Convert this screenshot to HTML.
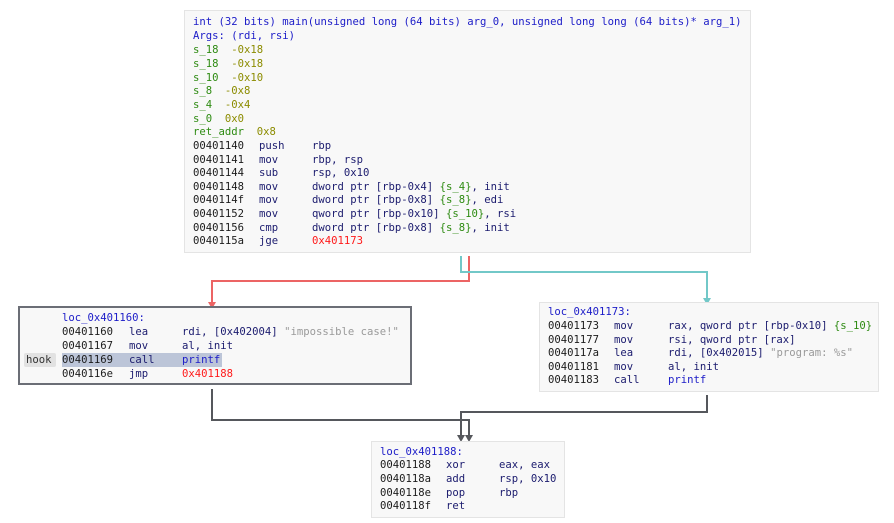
<!DOCTYPE html>
<html><head><meta charset="utf-8"><style>
body{margin:0;width:894px;height:523px;background:#fff;position:relative;overflow:hidden;font-family:"DejaVu Sans Mono","Liberation Mono",monospace;font-size:10.6px;}
.box{position:absolute;background:#f8f8f8;border:1px solid #e4e4e4;box-sizing:border-box;}
.l{position:absolute;white-space:pre;line-height:14px;height:14px;color:#1b1b1b;}
.b{color:#1c1cc8}.g{color:#2e8b12}.y{color:#8c8c00}.r{color:#ff1a1a}.s{color:#9a9a9a}.n{color:#1b1b6e}
</style></head><body>
<svg width="894" height="523" style="position:absolute;left:0;top:0">
<g fill="none" stroke-width="2">
<polyline points="469,256 469,281 212,281 212,302" stroke="#ec6464"/>
<polyline points="461,256 461,272 707,272 707,298" stroke="#72c8c8"/>
<polyline points="212,389 212,420 469,420 469,436" stroke="#55575c"/>
<polyline points="707,395 707,412 461,412 461,436" stroke="#55575c"/>
</g>
<polygon points="208,302 216,302 212,309" fill="#ec6464"/>
<polygon points="703,298 711,298 707,305" fill="#72c8c8"/>
<polygon points="465,435 473,435 469,442" fill="#55575c"/>
<polygon points="457,435 465,435 461,442" fill="#55575c"/>
</svg>
<div class="box" style="left:184px;top:10px;width:567px;height:243px"></div>
<div class="box" style="left:18px;top:306px;width:394px;height:79px;border:2px solid #6b6e76"></div>
<div class="box" style="left:539px;top:302px;width:340px;height:90px"></div>
<div class="box" style="left:371px;top:441px;width:194px;height:77px"></div>

<div class="l b" style="left:193px;top:15px">int (32 bits) main(unsigned long (64 bits) arg_0, unsigned long long (64 bits)* arg_1)</div>
<div class="l b" style="left:193px;top:29px">Args: (rdi, rsi)</div>
<div class="l" style="left:193px;top:43px"><span class="g">s_18</span>  <span class="y">-0x18</span></div>
<div class="l" style="left:193px;top:57px"><span class="g">s_18</span>  <span class="y">-0x18</span></div>
<div class="l" style="left:193px;top:71px"><span class="g">s_10</span>  <span class="y">-0x10</span></div>
<div class="l" style="left:193px;top:84px"><span class="g">s_8</span>  <span class="y">-0x8</span></div>
<div class="l" style="left:193px;top:98px"><span class="g">s_4</span>  <span class="y">-0x4</span></div>
<div class="l" style="left:193px;top:112px"><span class="g">s_0</span>  <span class="y">0x0</span></div>
<div class="l" style="left:193px;top:125px"><span class="g">ret_addr</span>  <span class="y">0x8</span></div>

<div class="l" style="left:193px;top:139px">00401140</div><div class="l n" style="left:259px;top:139px">push</div><div class="l n" style="left:312px;top:139px">rbp</div>
<div class="l" style="left:193px;top:153px">00401141</div><div class="l n" style="left:259px;top:153px">mov</div><div class="l n" style="left:312px;top:153px">rbp, rsp</div>
<div class="l" style="left:193px;top:166px">00401144</div><div class="l n" style="left:259px;top:166px">sub</div><div class="l n" style="left:312px;top:166px">rsp, 0x10</div>
<div class="l" style="left:193px;top:180px">00401148</div><div class="l n" style="left:259px;top:180px">mov</div><div class="l n" style="left:312px;top:180px">dword ptr [rbp-0x4] <span class="g">{s_4}</span>, init</div>
<div class="l" style="left:193px;top:193px">0040114f</div><div class="l n" style="left:259px;top:193px">mov</div><div class="l n" style="left:312px;top:193px">dword ptr [rbp-0x8] <span class="g">{s_8}</span>, edi</div>
<div class="l" style="left:193px;top:207px">00401152</div><div class="l n" style="left:259px;top:207px">mov</div><div class="l n" style="left:312px;top:207px">qword ptr [rbp-0x10] <span class="g">{s_10}</span>, rsi</div>
<div class="l" style="left:193px;top:221px">00401156</div><div class="l n" style="left:259px;top:221px">cmp</div><div class="l n" style="left:312px;top:221px">dword ptr [rbp-0x8] <span class="g">{s_8}</span>, init</div>
<div class="l" style="left:193px;top:234px">0040115a</div><div class="l n" style="left:259px;top:234px">jge</div><div class="l r" style="left:312px;top:234px">0x401173</div>

<div class="l b" style="left:62px;top:311px">loc_0x401160:</div>
<div class="l" style="left:62px;top:325px">00401160</div><div class="l n" style="left:129px;top:325px">lea</div><div class="l n" style="left:182px;top:325px">rdi, [0x402004] <span class="s">"impossible case!"</span></div>
<div class="l" style="left:62px;top:339px">00401167</div><div class="l n" style="left:129px;top:339px">mov</div><div class="l n" style="left:182px;top:339px">al, init</div>
<div style="position:absolute;left:24px;top:353px;width:32px;height:14px;background:#e2e2e2;border-radius:2px"></div>
<div class="l" style="left:26px;top:353px;color:#333">hook</div>
<div style="position:absolute;left:62px;top:353px;width:160px;height:14px;background:#bcc5d8"></div>
<div class="l" style="left:62px;top:353px">00401169</div><div class="l n" style="left:129px;top:353px">call</div><div class="l b" style="left:182px;top:353px">printf</div>
<div class="l" style="left:62px;top:367px">0040116e</div><div class="l n" style="left:129px;top:367px">jmp</div><div class="l r" style="left:182px;top:367px">0x401188</div>

<div class="l b" style="left:548px;top:305px">loc_0x401173:</div>
<div class="l" style="left:548px;top:319px">00401173</div><div class="l n" style="left:614px;top:319px">mov</div><div class="l n" style="left:668px;top:319px">rax, qword ptr [rbp-0x10] <span class="g">{s_10}</span></div>
<div class="l" style="left:548px;top:333px">00401177</div><div class="l n" style="left:614px;top:333px">mov</div><div class="l n" style="left:668px;top:333px">rsi, qword ptr [rax]</div>
<div class="l" style="left:548px;top:346px">0040117a</div><div class="l n" style="left:614px;top:346px">lea</div><div class="l n" style="left:668px;top:346px">rdi, [0x402015] <span class="s">"program: %s"</span></div>
<div class="l" style="left:548px;top:360px">00401181</div><div class="l n" style="left:614px;top:360px">mov</div><div class="l n" style="left:668px;top:360px">al, init</div>
<div class="l" style="left:548px;top:373px">00401183</div><div class="l n" style="left:614px;top:373px">call</div><div class="l b" style="left:668px;top:373px">printf</div>

<div class="l b" style="left:380px;top:445px">loc_0x401188:</div>
<div class="l" style="left:380px;top:458px">00401188</div><div class="l n" style="left:446px;top:458px">xor</div><div class="l n" style="left:499px;top:458px">eax, eax</div>
<div class="l" style="left:380px;top:472px">0040118a</div><div class="l n" style="left:446px;top:472px">add</div><div class="l n" style="left:499px;top:472px">rsp, 0x10</div>
<div class="l" style="left:380px;top:486px">0040118e</div><div class="l n" style="left:446px;top:486px">pop</div><div class="l n" style="left:499px;top:486px">rbp</div>
<div class="l" style="left:380px;top:499px">0040118f</div><div class="l n" style="left:446px;top:499px">ret</div>
</body></html>
